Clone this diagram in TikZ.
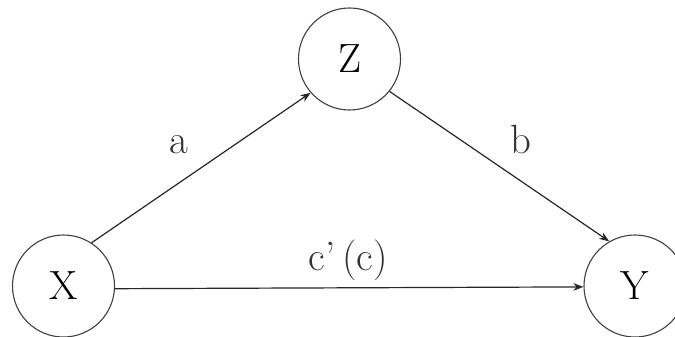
\documentclass[tikz,border=0pt]{standalone}
\usetikzlibrary{arrows.meta}
\begin{document}
\begin{tikzpicture}[x=1bp,y=1bp,
  var/.style={circle,draw=black!75,line width=1.1bp,minimum size=102bp,inner sep=0pt,font=\fontsize{41}{48}\selectfont},
  lab/.style={anchor=base,font=\fontsize{41}{48}\selectfont,text=black!80},
  edge/.style={draw=black!85,line width=1.2bp,-{Stealth[length=10bp,width=7.5bp,inset=3bp]}}]
\useasboundingbox (0,0) rectangle (675,336);
\node[var] (X) at (63.5,50) {X};
\node[var] (Z) at (349.5,277) {Z};
\node[var] (Y) at (635,50) {Y};
\draw[edge] (X.57) -- (Z.221);
\draw[edge] (Z.321) -- (Y.120);
\draw[edge] (X.357) -- (Y.181);
\node[lab] (la) at (179,183) {a};
\node[lab] (lb) at (521,183) {b};
\node[lab] (lc) at (348,66) {c'\,(c)};
\end{tikzpicture}
\end{document}
